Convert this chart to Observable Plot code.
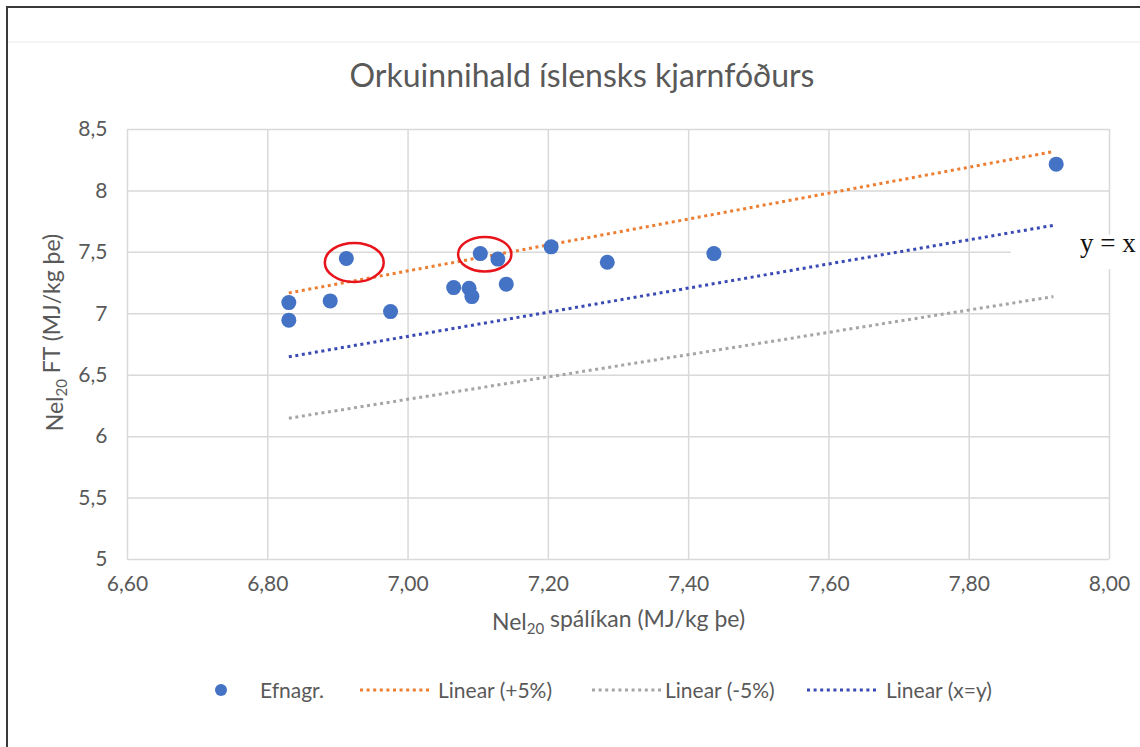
<!DOCTYPE html>
<html><head><meta charset="utf-8">
<script src="https://cdn.jsdelivr.net/npm/d3@7"></script>
<script src="https://cdn.jsdelivr.net/npm/@observablehq/plot@0.6"></script>
<style>
body{margin:0;background:#fff;}
#wrap{position:relative;width:1140px;height:747px;overflow:hidden;background:#fff;font-family:Lato,sans-serif;color:#595959;}
#bl{position:absolute;left:6px;top:6px;width:2px;height:760px;background:#3a3a3a;}
#bt{position:absolute;left:6px;top:6px;width:1200px;height:2px;background:#3a3a3a;}
#faint{position:absolute;left:8px;top:41px;width:1200px;height:2px;background:#f4f4f4;}
#title{position:absolute;left:0;top:55px;width:1164px;text-align:center;font-size:32px;color:#595959;}
#chart{position:absolute;left:0;top:100px;}
#legend{position:absolute;top:677px;left:0;width:1140px;height:26px;}
.sw{position:absolute;top:3px;}
.lt{position:absolute;top:0;line-height:26px;font-size:21px;color:#595959;white-space:nowrap;}
</style></head><body>
<div id="wrap">
  <div id="faint"></div>
  <div id="bl"></div><div id="bt"></div>
  <div id="title">Orkuinnihald íslensks kjarnfóðurs</div>
  <div id="chart"></div>
  <div id="legend"></div>
</div>
<script>
// ---- data ----
const pointsX = [6.830, 6.830, 6.889, 6.912, 6.975, 7.065, 7.087, 7.091, 7.103, 7.128, 7.140, 7.204, 7.284, 7.436, 7.924];
const pointsY = [7.091, 6.948, 7.105, 7.450, 7.018, 7.213, 7.208, 7.140, 7.490, 7.445, 7.241, 7.545, 7.420, 7.490, 8.218];
const fitX      = [6.83, 7.92];
const fitPlus5  = [7.17, 8.32];
const fitMinus5 = [6.15, 7.14];
const fitXeqY   = [6.65, 7.72];
const xTicks = [6.6, 6.8, 7.0, 7.2, 7.4, 7.6, 7.8, 8.0];
const yTicks = [5, 5.5, 6, 6.5, 7, 7.5, 8, 8.5];
const seriesNames = ["Efnagr.", "Linear (+5%)", "Linear (-5%)", "Linear (x=y)"];
const xLabel = "Nel20 spálíkan (MJ/kg þe)";
const yLabel = "Nel20 FT (MJ/kg þe)";
// annotations (red ellipses) in data units
const ellipseCx = [6.924, 7.110];
const ellipseCy = [7.414, 7.481];
const ellipseRx = [0.042, 0.038];
const ellipseRy = [0.159, 0.140];
const eqLabel = "y = x";
const eqX = 7.958, eqY = 7.5;
const eqBox = {x1: 7.86, x2: 8.06, y1: 7.36, y2: 7.64};

const colors = {pts: "#4472C4", plus: "#ED7D31", minus: "#A5A5A5", eq: "#3A4AB4"};

const points = pointsX.map((x, i) => ({x, y: pointsY[i]}));
const lines = [
  ...fitX.map((x, i) => ({s: "plus", x, y: fitPlus5[i]})),
  ...fitX.map((x, i) => ({s: "minus", x, y: fitMinus5[i]})),
  ...fitX.map((x, i) => ({s: "eq", x, y: fitXeqY[i]}))
];

const fmtX = d => d.toFixed(2).replace(".", ",");
const fmtY = d => String(d).replace(".", ",");

function ellipses(index, scales) {
  const g = d3.create("svg:g");
  ellipseCx.forEach((cx, i) => {
    const px = scales.x(cx), py = scales.y(ellipseCy[i]);
    g.append("ellipse").attr("cx", px).attr("cy", py)
      .attr("rx", Math.abs(scales.x(cx + ellipseRx[i]) - px))
      .attr("ry", Math.abs(scales.y(ellipseCy[i] + ellipseRy[i]) - py))
      .attr("fill", "none").attr("stroke", "#E8141B").attr("stroke-width", 2.5);
  });
  return g.node();
}

const dash = "3 3.6";
const plot = Plot.plot({
  width: 1140, height: 560,
  marginLeft: 127, marginRight: 31, marginTop: 29, marginBottom: 101,
  style: {fontFamily: "Lato, sans-serif", fontSize: "21px", color: "#595959", background: "transparent", overflow: "visible"},
  x: {domain: [6.6, 8.0]},
  y: {domain: [5, 8.5]},
  marks: [
    Plot.gridX(xTicks, {stroke: "#d9d9d9", strokeOpacity: 1, strokeWidth: 1.5}),
    Plot.gridY(yTicks, {stroke: "#d9d9d9", strokeOpacity: 1, strokeWidth: 1.5}),
    Plot.axisX(xTicks, {tickSize: 0, tickPadding: 17, tickFormat: fmtX, label: null}),
    Plot.axisY(yTicks, {tickSize: 0, tickPadding: 20, tickFormat: fmtY, label: null}),
    Plot.line(lines.filter(d => d.s === "minus"), {x: "x", y: "y", stroke: colors.minus, strokeWidth: 3, strokeDasharray: dash, strokeLinecap: "butt"}),
    Plot.line(lines.filter(d => d.s === "eq"), {x: "x", y: "y", stroke: colors.eq, strokeWidth: 3, strokeDasharray: dash, strokeLinecap: "butt"}),
    Plot.line(lines.filter(d => d.s === "plus"), {x: "x", y: "y", stroke: colors.plus, strokeWidth: 3, strokeDasharray: dash, strokeLinecap: "butt"}),
    Plot.dot(points, {x: "x", y: "y", r: 7.5, fill: colors.pts, stroke: "none"}),
    ellipses,
    Plot.rect([eqBox], {x1: "x1", x2: "x2", y1: "y1", y2: "y2", fill: "white", clip: false}),
    Plot.text([eqLabel], {x: eqX, y: eqY, text: d => d, textAnchor: "start", fontFamily: "Liberation Serif, serif", fontSize: 27, fill: "#111", dy: -9}),
    Plot.text([xLabel], {frameAnchor: "bottom", textAnchor: "middle", lineAnchor: "middle", dy: 63, text: d => d, fontSize: 23}),
    Plot.text([yLabel], {frameAnchor: "left", textAnchor: "middle", lineAnchor: "middle", dx: -72, dy: -12, rotate: -90, text: d => d, fontSize: 23})
  ]
});

// subscripts
d3.select(plot).selectAll("text").each(function() {
  const t = this.textContent;
  if (t.startsWith("Nel20")) {
    const el = d3.select(this);
    el.text("");
    el.append("tspan").text("Nel");
    el.append("tspan").attr("font-size", "15px").attr("dy", "0.3em").text("20");
    el.append("tspan").attr("dy", "-0.3em").text(t.slice(5));
  }
});
document.getElementById("chart").appendChild(plot);

// legend
const legend = d3.select("#legend");
const legendSwX = [211, 359, 591, 806];
const legendTextX = [260, 438, 665, 886];
const legendSw = [{type: "dot", c: colors.pts}, {type: "line", c: colors.plus}, {type: "line", c: colors.minus}, {type: "line", c: colors.eq}];
seriesNames.forEach((name, i) => {
  const sw = legendSw[i];
  const s = legend.append("svg").attr("class", "sw").style("left", legendSwX[i] + "px")
    .attr("width", sw.type === "dot" ? 20 : 72).attr("height", 20);
  if (sw.type === "dot") {
    s.append("circle").attr("cx", 10).attr("cy", 10).attr("r", 6).attr("fill", sw.c);
  } else {
    s.append("line").attr("x1", 1).attr("x2", 71).attr("y1", 10).attr("y2", 10)
      .attr("stroke", sw.c).attr("stroke-width", 3).attr("stroke-dasharray", dash);
  }
  legend.append("div").attr("class", "lt").style("left", legendTextX[i] + "px").text(name);
});
</script>
</body></html>
